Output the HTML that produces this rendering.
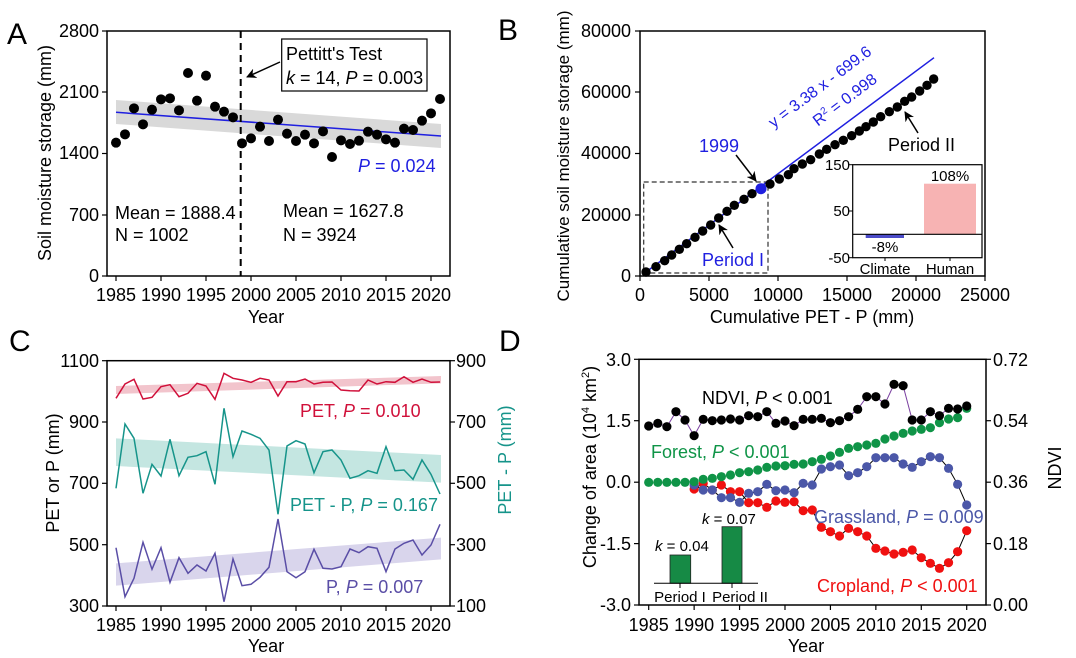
<!DOCTYPE html>
<html><head><meta charset="utf-8"><style>
html,body{margin:0;padding:0;background:#fff}
svg{display:block;font-family:"Liberation Sans",Arial,sans-serif}
</style></head><body>
<svg id="s" width="1076" height="658" viewBox="0 0 1076 658" xmlns="http://www.w3.org/2000/svg">
<defs>
<marker id="ar" markerWidth="10" markerHeight="10" refX="9" refY="5" orient="auto" markerUnits="userSpaceOnUse"><path d="M0,0 L10,5 L0,10 L3,5 z" fill="#000"/></marker>
</defs>
<g font-size="18">
<text x="7" y="44" font-size="30">A</text>
<text x="498" y="40" font-size="30">B</text>
<text x="9" y="351" font-size="30">C</text>
<text x="499" y="351" font-size="30">D</text>

<polygon points="116,100 441,124 441,148 116,124" fill="#d9d9d9"/>
<line x1="116" y1="112.3" x2="441" y2="136" stroke="#1f1fe0" stroke-width="1.5"/>
<line x1="240.7" y1="31" x2="240.7" y2="276" stroke="#000" stroke-width="2" stroke-dasharray="7,5"/>
<g id="aPts" fill="#000"></g>
<rect x="107" y="31" width="343" height="245" fill="none" stroke="#000" stroke-width="1.5"/>
<rect x="281.7" y="39" width="145.3" height="52" fill="#fff" stroke="#000" stroke-width="1.2"/>
<text x="286" y="60">Pettitt's Test</text>
<text x="286" y="84"><tspan font-style="italic">k</tspan> = 14, <tspan font-style="italic">P</tspan> = 0.003</text>
<line x1="280" y1="62" x2="247" y2="77" stroke="#000" stroke-width="1.5" marker-end="url(#ar)"/>
<text x="358" y="172" fill="#1f1fe0"><tspan font-style="italic">P</tspan> = 0.024</text>
<text x="115" y="219">Mean = 1888.4</text>
<text x="115" y="241">N = 1002</text>
<text x="283" y="217">Mean = 1627.8</text>
<text x="283" y="241">N = 3924</text>
<g text-anchor="end">
<text x="99" y="37">2800</text><text x="99" y="98">2100</text><text x="99" y="159">1400</text><text x="99" y="221">700</text><text x="99" y="282">0</text>
</g>
<g stroke="#000" stroke-width="1.2">
<line x1="102" y1="31" x2="107" y2="31"/><line x1="102" y1="92" x2="107" y2="92"/><line x1="102" y1="153.5" x2="107" y2="153.5"/><line x1="102" y1="215" x2="107" y2="215"/><line x1="102" y1="276" x2="107" y2="276"/>
<line x1="116" y1="276" x2="116" y2="281"/><line x1="161" y1="276" x2="161" y2="281"/><line x1="206" y1="276" x2="206" y2="281"/><line x1="251" y1="276" x2="251" y2="281"/><line x1="296" y1="276" x2="296" y2="281"/><line x1="341" y1="276" x2="341" y2="281"/><line x1="386" y1="276" x2="386" y2="281"/><line x1="431" y1="276" x2="431" y2="281"/>
</g>
<g text-anchor="middle">
<text x="116" y="301">1985</text><text x="161" y="301">1990</text><text x="206" y="301">1995</text><text x="251" y="301">2000</text><text x="296" y="301">2005</text><text x="341" y="301">2010</text><text x="386" y="301">2015</text><text x="431" y="301">2020</text>
<text x="266" y="323">Year</text>
<text transform="translate(51,153) rotate(-90)">Soil moisture storage (mm)</text>
</g>

<rect x="643.7" y="182" width="124.3" height="91" fill="none" stroke="#333" stroke-width="1.2" stroke-dasharray="5,3"/>
<line x1="646" y1="272" x2="934" y2="57.7" stroke="#1f1fe0" stroke-width="1.5"/>
<g id="bPts" fill="#000"></g>
<circle cx="761" cy="188.7" r="5.5" fill="#1f1fe0"/>
<rect x="640" y="31" width="345" height="245" fill="none" stroke="#000" stroke-width="1.5"/>
<g text-anchor="end">
<text x="631" y="37">80000</text><text x="631" y="98">60000</text><text x="631" y="159">40000</text><text x="631" y="221">20000</text><text x="631" y="282">0</text>
</g>
<g stroke="#000" stroke-width="1.2">
<line x1="635" y1="31" x2="640" y2="31"/><line x1="635" y1="92" x2="640" y2="92"/><line x1="635" y1="153.5" x2="640" y2="153.5"/><line x1="635" y1="215" x2="640" y2="215"/><line x1="635" y1="276" x2="640" y2="276"/>
<line x1="640" y1="276" x2="640" y2="281"/><line x1="709" y1="276" x2="709" y2="281"/><line x1="778" y1="276" x2="778" y2="281"/><line x1="847" y1="276" x2="847" y2="281"/><line x1="916" y1="276" x2="916" y2="281"/><line x1="985" y1="276" x2="985" y2="281"/>
</g>
<g text-anchor="middle">
<text x="640" y="301">0</text><text x="709" y="301">5000</text><text x="778" y="301">10000</text><text x="847" y="301">15000</text><text x="916" y="301">20000</text><text x="985" y="301">25000</text>
<text x="812" y="323">Cumulative PET - P (mm)</text>
<text transform="translate(569,156) rotate(-90)" font-size="17">Cumulative soil moisture storage (mm)</text>
<text transform="translate(823,91) rotate(-37)" fill="#1f1fe0" font-size="16">y = 3.38 x - 699.6</text>
<text transform="translate(848,104) rotate(-37)" fill="#1f1fe0" font-size="16">R<tspan font-size="10" dy="-6">2</tspan><tspan dy="6"> = 0.998</tspan></text>
</g>
<text x="699" y="152" fill="#1f1fe0">1999</text>
<line x1="736" y1="155" x2="756" y2="181" stroke="#000" stroke-width="1.5" marker-end="url(#ar)"/>
<text x="702" y="266" fill="#1f1fe0">Period I</text>
<line x1="733" y1="248" x2="719" y2="225" stroke="#000" stroke-width="1.5" marker-end="url(#ar)"/>
<text x="888" y="151">Period II</text>
<line x1="918" y1="133" x2="905" y2="112" stroke="#000" stroke-width="1.5" marker-end="url(#ar)"/>
<rect x="852.7" y="164.7" width="129.3" height="93" fill="#fff"/>
<rect x="865.7" y="234.3" width="38.3" height="3.7" fill="#4b4bc8"/>
<rect x="924" y="183.7" width="52" height="50.6" fill="#f7b3b3"/>
<line x1="852.7" y1="234.3" x2="982" y2="234.3" stroke="#000" stroke-width="1.2"/>
<rect x="852.7" y="164.7" width="129.3" height="93" fill="none" stroke="#000" stroke-width="1.2"/>
<g font-size="15">
<g text-anchor="end"><text x="850" y="170">150</text><text x="850" y="216">50</text><text x="850" y="263">-50</text></g>
<g stroke="#000"><line x1="849" y1="164.7" x2="852.7" y2="164.7"/><line x1="849" y1="211" x2="852.7" y2="211"/><line x1="849" y1="257.7" x2="852.7" y2="257.7"/><line x1="885" y1="257.7" x2="885" y2="261"/><line x1="950" y1="257.7" x2="950" y2="261"/></g>
<g text-anchor="middle"><text x="950" y="181">108%</text><text x="885" y="252">-8%</text><text x="885" y="274">Climate</text><text x="950" y="274">Human</text></g>
</g>

<polygon id="pb1" fill="#f2c4cc"/>
<polygon id="pb2" fill="#c4e6e1"/>
<polygon id="pb3" fill="#d9d5ec"/>
<polyline id="pl1" fill="none" stroke="#d0103a" stroke-width="1.5"/>
<polyline id="pl2" fill="none" stroke="#16948a" stroke-width="1.5"/>
<polyline id="pl3" fill="none" stroke="#5a4ea6" stroke-width="1.5"/>
<rect x="107" y="360.7" width="343" height="245.3" fill="none" stroke="#000" stroke-width="1.5"/>
<g text-anchor="end">
<text x="99" y="367">1100</text><text x="99" y="428">900</text><text x="99" y="489">700</text><text x="99" y="551">500</text><text x="99" y="612">300</text>
</g>
<g>
<text x="456" y="367">900</text><text x="456" y="428">700</text><text x="456" y="489">500</text><text x="456" y="551">300</text><text x="456" y="612">100</text>
</g>
<g stroke="#000" stroke-width="1.2">
<line x1="102" y1="360.7" x2="107" y2="360.7"/><line x1="102" y1="422" x2="107" y2="422"/><line x1="102" y1="483.3" x2="107" y2="483.3"/><line x1="102" y1="544.7" x2="107" y2="544.7"/><line x1="102" y1="606" x2="107" y2="606"/>
<line x1="450" y1="360.7" x2="455" y2="360.7"/><line x1="450" y1="422" x2="455" y2="422"/><line x1="450" y1="483.3" x2="455" y2="483.3"/><line x1="450" y1="544.7" x2="455" y2="544.7"/><line x1="450" y1="606" x2="455" y2="606"/>
<line x1="116" y1="606" x2="116" y2="611"/><line x1="161" y1="606" x2="161" y2="611"/><line x1="206" y1="606" x2="206" y2="611"/><line x1="251" y1="606" x2="251" y2="611"/><line x1="296" y1="606" x2="296" y2="611"/><line x1="341" y1="606" x2="341" y2="611"/><line x1="386" y1="606" x2="386" y2="611"/><line x1="431" y1="606" x2="431" y2="611"/>
</g>
<g text-anchor="middle">
<text x="116" y="631">1985</text><text x="161" y="631">1990</text><text x="206" y="631">1995</text><text x="251" y="631">2000</text><text x="296" y="631">2005</text><text x="341" y="631">2010</text><text x="386" y="631">2015</text><text x="431" y="631">2020</text>
<text x="266" y="652">Year</text>
<text transform="translate(59,473) rotate(-90)">PET or P (mm)</text>
<text transform="translate(511,460) rotate(-90)" fill="#16948a">PET - P (mm)</text>
</g>
<text x="300" y="417" fill="#d0103a">PET, <tspan font-style="italic">P</tspan> = 0.010</text>
<text x="290" y="511" fill="#16948a">PET - P, <tspan font-style="italic">P</tspan> = 0.167</text>
<text x="326" y="593" fill="#5a4ea6">P, <tspan font-style="italic">P</tspan> = 0.007</text>

<polyline id="dN" fill="none" stroke="#7a3fa0" stroke-width="1"/>
<polyline id="dG" fill="none" stroke="#000" stroke-width="1"/>
<polyline id="dC" fill="none" stroke="#000" stroke-width="1"/>
<g id="dPts"></g>
<rect x="639" y="359.3" width="347" height="245.7" fill="none" stroke="#000" stroke-width="1.5"/>
<g text-anchor="end">
<text x="631" y="366">3.0</text><text x="631" y="427">1.5</text><text x="631" y="488">0.0</text><text x="631" y="550">-1.5</text><text x="631" y="611">-3.0</text>
</g>
<g>
<text x="993" y="366">0.72</text><text x="993" y="427">0.54</text><text x="993" y="488">0.36</text><text x="993" y="550">0.18</text><text x="993" y="611">0.00</text>
</g>
<g stroke="#000" stroke-width="1.2">
<line x1="634" y1="359.3" x2="639" y2="359.3"/><line x1="634" y1="420.7" x2="639" y2="420.7"/><line x1="634" y1="482.2" x2="639" y2="482.2"/><line x1="634" y1="543.6" x2="639" y2="543.6"/><line x1="634" y1="605" x2="639" y2="605"/>
<line x1="986" y1="359.3" x2="991" y2="359.3"/><line x1="986" y1="420.7" x2="991" y2="420.7"/><line x1="986" y1="482.2" x2="991" y2="482.2"/><line x1="986" y1="543.6" x2="991" y2="543.6"/><line x1="986" y1="605" x2="991" y2="605"/>
</g>
<g id="dTicks" stroke="#000" stroke-width="1.2"></g>
<g text-anchor="middle" id="dLab"></g>
<g text-anchor="middle">
<text x="806" y="652">Year</text>
<text transform="translate(596,467) rotate(-90)">Change of area (10<tspan font-size="11" dy="-7">4</tspan><tspan dy="7"> km</tspan><tspan font-size="11" dy="-7">2</tspan><tspan dy="7">)</tspan></text>
<text transform="translate(1061,468) rotate(-90)">NDVI</text>
</g>
<text x="702" y="404">NDVI, <tspan font-style="italic">P</tspan> &lt; 0.001</text>
<text x="651" y="458" fill="#0f9447">Forest, <tspan font-style="italic">P</tspan> &lt; 0.001</text>
<text x="814" y="523" fill="#4b57a8">Grassland, <tspan font-style="italic">P</tspan> = 0.009</text>
<text x="817" y="592" fill="#f01010">Cropland, <tspan font-style="italic">P</tspan> &lt; 0.001</text>
<rect x="670" y="555" width="20.7" height="28.3" fill="#168a45" stroke="#222" stroke-width="0.8"/>
<rect x="722" y="526.7" width="20" height="56.6" fill="#168a45" stroke="#222" stroke-width="0.8"/>
<line x1="654" y1="583.3" x2="758" y2="583.3" stroke="#000" stroke-width="1"/>
<line x1="680" y1="583.3" x2="680" y2="588" stroke="#000"/><line x1="732" y1="583.3" x2="732" y2="588" stroke="#000"/>
<g font-size="15">
<text x="655" y="551"><tspan font-style="italic">k</tspan> = 0.04</text>
<text x="702" y="524"><tspan font-style="italic">k</tspan> = 0.07</text>
<text x="680" y="602" text-anchor="middle">Period I</text>
<text x="740" y="602" text-anchor="middle">Period II</text>
</g>
</g>
</svg>
<script>
var NS="http://www.w3.org/2000/svg";
function c(g,x,y,r,f){var e=document.createElementNS(NS,"circle");e.setAttribute("cx",x);e.setAttribute("cy",y);e.setAttribute("r",r);if(f)e.setAttribute("fill",f);g.appendChild(e);}
var A=[428,403,325,373,329,298,295,331,219,302,227,320,335,352,430,415,380,423,359,401,423,404,430,394,471,421,432,422,395,404,418,428,386,390,362,340,297];
var g=document.getElementById("aPts");
A.forEach(function(v,i){c(g,116+9*i,v/3,5);});
var B=[[318,816],[348,800],[374,782],[395,765],[418,748],[440,731],[465,712],[488,693],[512,675],[536,654],[561,634],[583,616],[612,598],[636,581],[690,552],[718,537],[745,524],[762,506],[787,492],[812,479],[838,462],[860,448],[885,434],[910,421],[935,407],[958,393],[978,380],[1000,366],[1022,350],[1048,335],[1072,321],[1094,304],[1115,291],[1139,273],[1161,256],[1181,237]];
g=document.getElementById("bPts");
B.forEach(function(p){c(g,540+p[0]/3,p[1]/3,4.7);});
function pts(arr,x0,dx,y0){return arr.map(function(v,i){return (x0+dx*i).toFixed(1)+","+(y0+v/3).toFixed(1);}).join(" ");}
var PET=[235,192,178,237,232,200,194,230,220,190,198,238,160,175,180,187,175,180,228,185,185,177,192,187,186,210,212,213,180,192,185,187,170,187,177,187,186];
var PP=[505,312,355,520,433,468,358,467,412,407,395,493,265,410,333,343,355,390,583,378,362,372,458,395,390,420,475,467,452,460,380,452,450,478,420,463,522];
var P=[683,830,775,667,748,683,787,713,760,735,753,700,845,717,797,793,772,742,597,755,773,755,688,745,747,740,687,698,680,685,755,687,670,660,705,675,613];
document.getElementById("pl1").setAttribute("points",pts(PET,116,9,320));
document.getElementById("pl2").setAttribute("points",pts(PP,116,9,320));
document.getElementById("pl3").setAttribute("points",pts(P,116,9,320));
function band(id,a,b,cc,d){document.getElementById(id).setAttribute("points","116,"+(320+a/3)+" 441,"+(320+cc/3)+" 441,"+(320+d/3)+" 116,"+(320+b/3));}
band("pb1",198,222,168,190);
band("pb2",355,438,405,488);
band("pb3",730,797,653,718);
var x0=648.7,dx=9.086;
var N=[318,310,320,275,300,347,298,302,300,297,300,287,290,275,310,303,317,298,298,295,308,302,290,268,230,230,252,193,197,300,300,275,287,265,267,258];
var F=[487,487,487,487,487,485,478,475,470,465,458,455,450,442,438,437,433,432,425,418,408,397,385,380,375,370,357,348,340,333,328,323,308,297,293,265];
var G=[495,510,510,533,533,547,520,515,493,512,510,518,490,495,447,440,435,467,458,440,413,413,413,432,442,425,410,413,445,493,555];
var C=[507,490,510,495,515,515,548,548,562,543,547,545,572,570,622,635,648,625,635,648,685,693,702,697,690,713,730,745,728,695,632];
document.getElementById("dN").setAttribute("points",pts(N,x0,dx,320));
document.getElementById("dG").setAttribute("points",pts(G,x0+5*dx,dx,320));
document.getElementById("dC").setAttribute("points",pts(C,x0+5*dx,dx,320));
g=document.getElementById("dPts");
C.forEach(function(v,i){c(g,x0+(i+5)*dx,320+v/3,4.6,"#f01010");});
G.forEach(function(v,i){c(g,x0+(i+5)*dx,320+v/3,4.6,"#4b57a8");});
F.forEach(function(v,i){c(g,x0+i*dx,320+v/3,4.6,"#0f9447");});
N.forEach(function(v,i){c(g,x0+i*dx,320+v/3,4.6,"#000");});
var t=document.getElementById("dTicks"),l=document.getElementById("dLab");
for(var k=0;k<8;k++){var x=x0+5*k*dx;var e=document.createElementNS(NS,"line");e.setAttribute("x1",x);e.setAttribute("x2",x);e.setAttribute("y1",605);e.setAttribute("y2",610);t.appendChild(e);
var tx=document.createElementNS(NS,"text");tx.setAttribute("x",x);tx.setAttribute("y",631);tx.textContent=1985+5*k;l.appendChild(tx);}
</script>
</body></html>
